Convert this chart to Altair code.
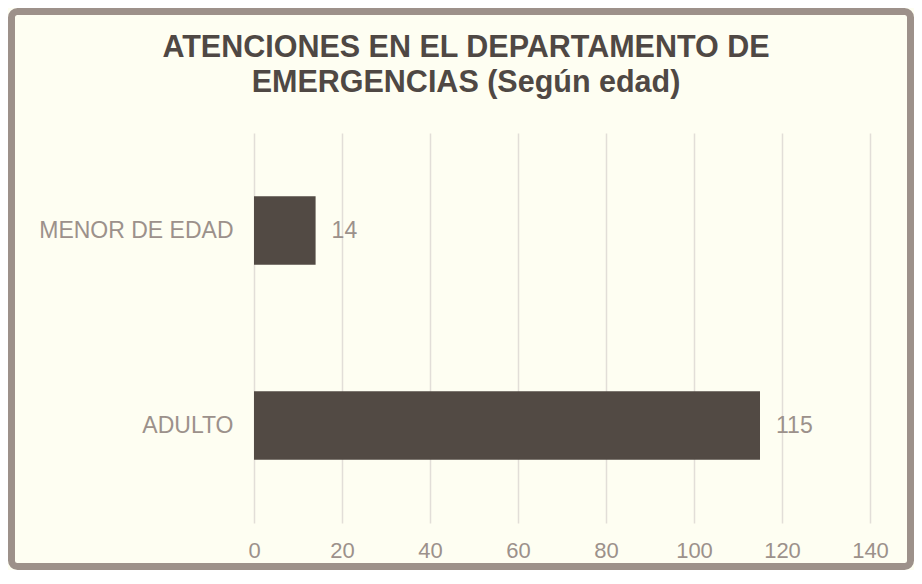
import altair as alt
import pandas as pd

categorias = ["MENOR DE EDAD", "ADULTO"]
valores = [14, 115]
ticks_x = [0, 20, 40, 60, 80, 100, 120, 140]
titulo = ["ATENCIONES EN EL DEPARTAMENTO DE", "EMERGENCIAS (Según edad)"]

df = pd.DataFrame({"categoria": categorias, "valor": valores})

FONT = "Liberation Sans"
BAR = "#524a44"
GRAY = "#9c918b"
TITLE_C = "#4f4844"
BORDER = "#9d918a"
BG = "#fefef2"
GRID = "#e2ded8"

W, H = 616, 390
PAD = {"left": 246, "top": 125, "right": 44, "bottom": 47}

y_enc = alt.Y(
    "categoria:N",
    sort=categorias,
    scale=alt.Scale(paddingInner=0.648, paddingOuter=0.324),
    axis=alt.Axis(title=None, domain=False, ticks=False, labelPadding=21,
                  labelFontSize=23, labelColor=GRAY, labelFont=FONT, grid=False,
                  labelLimit=400),
)
x_enc = alt.X(
    "valor:Q",
    scale=alt.Scale(domain=[0, 140], nice=False),
    axis=alt.Axis(title=None, values=ticks_x, domain=False, ticks=False,
                  labelPadding=17, labelFontSize=22, labelColor=GRAY, labelFont=FONT,
                  labelFlush=False, grid=True, gridColor=GRID, gridWidth=1.5),
)

base = alt.Chart(df)
bars = base.mark_bar(color=BAR).encode(x=x_enc, y=y_enc)
labels = base.mark_text(align="left", baseline="middle", dx=16, fontSize=23,
                        color=GRAY, font=FONT).encode(
    x="valor:Q", y=alt.Y("categoria:N", sort=categorias), text="valor:Q")

# decorative chart frame (outer border of the whole chart)
border = alt.Chart(alt.Data(values=[{}])).mark_rect(
    fill=None, stroke=BORDER, strokeWidth=7, cornerRadius=6
).encode(
    x=alt.value(-242.5), x2=alt.value(656.5),
    y=alt.value(-121.5), y2=alt.value(433.5),
)

chart = alt.layer(bars, labels, border).properties(
    width=W, height=H,
    background=BG,
    padding=PAD,
    autosize=alt.AutoSizeParams(type="none"),
    title=alt.TitleParams(text=titulo, fontSize=30.5, font=FONT, fontWeight="bold",
                          color=TITLE_C, anchor="middle", dx=-96, offset=-90,
                          lineHeight=35),
).configure_view(stroke=None)

chart.save("out.html", embed_options={"renderer": "svg", "actions": False})
